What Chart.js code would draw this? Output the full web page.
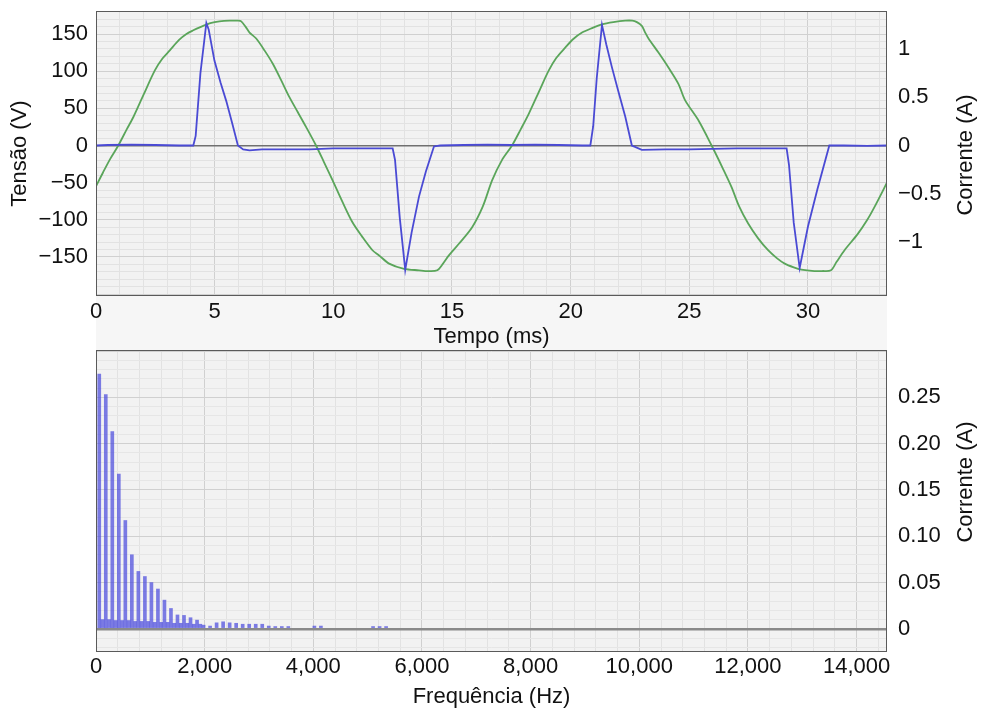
<!DOCTYPE html>
<html><head><meta charset="utf-8">
<script src="https://cdn.jsdelivr.net/npm/chart.js@4/dist/chart.umd.min.js"></script>
<style>
html,body{margin:0;padding:0;background:#fff;}
#wrap{position:relative;width:982px;height:715px;overflow:hidden;}
canvas{position:absolute;left:0;}
#c1{top:0;width:982px;height:350px;}
#c2{top:350px;width:982px;height:365px;}
</style></head><body>
<div id="wrap">
<canvas id="c1" width="982" height="350"></canvas>
<canvas id="c2" width="982" height="365"></canvas>
</div>
<script>
// ---- Top panel: voltage (V) and current (A) vs time (ms)
const timeV = [0.0,0.3,0.6,0.94,1.3,1.57,2.0,2.48,2.8,3.11,3.5,3.81,4.1,4.37,4.86,5.2,5.63,6.0,6.12,6.3,6.47,6.75,7.1,7.45,7.8,8.15,8.5,8.85,9.27,9.6,9.97,10.4,10.8,11.2,11.65,11.93,12.35,12.98,13.61,14.0,14.38,14.6,14.87,15.3,15.85,16.3,16.69,17.1,17.53,
  17.9,18.24,18.7,19.08,19.4,19.78,20.1,20.48,20.9,21.32,21.8,22.3,22.6,22.79,23.0,23.14,23.28,23.7,24.12,24.54,24.82,25.4,25.94,26.4,26.78,27.1,27.48,27.9,28.32,28.7,29.02,29.4,29.72,30.27,30.6,30.97,31.2,31.54,32.1,32.5,32.8,33.33];
const voltage = [-55,-36,-18,0,22,38,68,101,117,128,142,150,155,159,165,167,168,168,167,160,152,144,128,110,88,65,45,25,0,-22,-47,-77,-103,-122,-141,-148,-159,-166,-168,-169,-168,-160,-148,-132,-110,-82,-47,-20,0,
  22,43,75,101,118,132,143,152,158,163,166,168,168,166,161,152,144,125,105,83,61,33,0,-30,-56,-82,-105,-125,-141,-152,-159,-164,-167,-169,-169,-168,-157,-141,-119,-100,-83,-50];
const timeI = [0,0.5,1.5,2.5,3.5,4.1,4.2,4.4,4.65,4.75,4.99,5.25,5.49,5.75,5.98,6.2,6.47,7,8,9,10,11,12,12.5,12.6,12.8,13.03,13.3,13.61,13.9,14.24,14.5,15.5,16.5,17.5,18.5,19.5,20.5,20.83,20.95,21.1,21.32,21.5,21.74,22.0,22.3,22.58,23.0,24,25,26,27,28,29.1,29.2,29.4,29.65,30.0,30.4,30.9,31.5,32.5,33.33];
const current = [0,0.005,0.01,0.005,0,0,0.1,0.75,1.27,1.2,0.88,0.65,0.46,0.22,0,-0.04,-0.05,-0.04,-0.04,-0.04,-0.03,-0.03,-0.03,-0.03,-0.15,-0.75,-1.29,-0.9,-0.53,-0.27,-0.01,0,0.005,0.01,0.005,0.01,0.005,0,0,0.2,0.7,1.25,1.05,0.81,0.57,0.3,0,-0.045,-0.04,-0.04,-0.035,-0.03,-0.03,-0.03,-0.2,-0.8,-1.27,-0.84,-0.45,0,0,-0.005,0];

// ---- Bottom panel: current spectrum
const freqHz = [60,120,180,240,300,360,420,480,540,600,660,720,780,840,900,960,1020,1080,1140,1200,1260,1320,1380,1440,1500,1560,1620,1680,1740,1800,1860,1920,1980,2100,2220,2340,2460,2580,2700,2820,2940,3060,3180,3300,3420,3540,4020,4140,5100,5220,5340];
const ampA = [0.275,0.010,0.253,0.010,0.213,0.009,0.167,0.009,0.117,0.009,0.080,0.008,0.062,0.008,0.0565,0.008,0.050,0.007,0.043,0.007,0.031,0.007,0.022,0.006,0.015,0.006,0.0145,0.006,0.012,0.005,0.0094,0.005,0.004,0.003,0.0065,0.0076,0.0065,0.006,0.005,0.005,0.005,0.005,0.003,0.0025,0.0025,0.0025,0.003,0.003,0.0025,0.0025,0.0025];

const timeTicksMajor = 5, timeMinor = 1;
const voltMajor = 50, voltMinor = 10;
const freqMajor = 2000, freqMinor = 400, freqMax = 14560;

Chart.defaults.font.family = '"Liberation Sans", Arial, sans-serif';
Chart.defaults.font.size = 22;
Chart.defaults.color = '#111';

const MINUS = '\u2212';
function fmtNum(v){ const a = Math.abs(v); return (v < -1e-9 ? MINUS : '') + (Number.isInteger(a) ? String(a) : String(+a.toFixed(3))); }
function isMult(v, m){ const r = Math.abs(v / m - Math.round(v / m)); return r < 1e-6; }
function thousands(v){ return String(Math.round(v)).replace(/\B(?=(\d{3})+(?!\d))/g, ','); }

const bgPlugin = {
  id: 'bgframe',
  beforeDraw(chart, args, opts) {
    const {ctx, chartArea: a} = chart;
    ctx.save();
    if (opts.band) { ctx.fillStyle = '#f6f6f6'; ctx.fillRect(a.left, a.bottom, a.right - a.left, chart.height - a.bottom); }
    ctx.fillStyle = '#f2f2f2';
    ctx.fillRect(a.left, a.top, a.right - a.left, a.bottom - a.top);
    ctx.restore();
  },
  afterDraw(chart, args, opts) {
    const {ctx, chartArea: a} = chart;
    ctx.save();
    ctx.strokeStyle = '#5a5a5a'; ctx.lineWidth = 1;
    ctx.strokeRect(Math.round(a.left) + 0.5, Math.round(a.top) + 0.5, Math.round(a.right - a.left) - 1, Math.round(a.bottom - a.top) - 1);
    if (opts.rightTitle) {
      // right-hand axis title, reading bottom-to-top like the reference
      ctx.translate(966, opts.rightTitleY);
      ctx.rotate(-Math.PI / 2);
      ctx.font = '22px "Liberation Sans", Arial, sans-serif';
      ctx.fillStyle = '#111';
      ctx.textAlign = 'center';
      ctx.textBaseline = 'middle';
      ctx.fillText(opts.rightTitle, 0, 0);
    }
    ctx.restore();
  }
};

const gridColor = (major) => (ctx) => {
  const v = ctx.tick ? ctx.tick.value : 0;
  if (Math.abs(v) < 1e-9) return '#707070';
  return isMult(v, major) ? '#d0d0d0' : '#e2e2e2';
};
const noPadV = (w) => (s) => { s.width = w; s.paddingTop = 0; s.paddingBottom = 0; };
const noPadH = (h) => (s) => { s.height = h; s.paddingLeft = 0; s.paddingRight = 0; };

// Top chart
new Chart(document.getElementById('c1'), {
  type: 'line',
  data: {
    datasets: [
      { label: 'Corrente', yAxisID: 'y1', data: timeI.map((t, i) => ({x: t, y: current[i]})),
        borderColor: '#4a4ad4', borderWidth: 1.8, pointRadius: 0, tension: 0 },
      { label: 'Tensão', yAxisID: 'y', data: timeV.map((t, i) => ({x: t, y: voltage[i]})),
        borderColor: '#5aa55a', borderWidth: 1.8, pointRadius: 0, tension: 0.3 }
    ]
  },
  options: {
    responsive: false, animation: false, devicePixelRatio: 1,
    layout: { padding: { top: 11, left: 0, right: 0, bottom: 0 } },
    plugins: { legend: { display: false }, tooltip: { enabled: false },
      bgframe: { band: true, rightTitle: 'Corrente (A)', rightTitleY: 155 } },
    scales: {
      x: {
        type: 'linear', min: 0, max: 33.33,
        ticks: { autoSkip: false, maxRotation: 0, padding: 3, includeBounds: false,
          callback: (v) => isMult(v, timeTicksMajor) ? fmtNum(v) : '' },
        afterBuildTicks: (s) => { const t = []; for (let v = 0; v <= 33.33; v += timeMinor) t.push({value: v}); s.ticks = t; },
        grid: { drawTicks: false, color: gridColor(timeTicksMajor), lineWidth: 1 },
        border: { display: false },
        title: { display: true, text: 'Tempo (ms)', padding: { top: 0, bottom: 0 } },
        afterFit: noPadH(54)
      },
      y: {
        type: 'linear', position: 'left', min: -202.6, max: 181,
        ticks: { autoSkip: false, padding: 8, includeBounds: false,
          callback: (v) => (isMult(v, voltMajor) && Math.abs(v) <= 150) ? fmtNum(v) : '' },
        afterBuildTicks: (s) => { const t = []; for (let v = -200; v <= 180; v += voltMinor) t.push({value: v}); s.ticks = t; },
        grid: { drawTicks: false, color: gridColor(voltMajor), lineWidth: (c) => (Math.abs(c.tick.value) < 1e-9 ? 1.5 : 1) },
        border: { display: false },
        title: { display: true, text: 'Tensão (V)', padding: { top: 7, bottom: 0 } },
        afterFit: noPadV(96)
      },
      y1: {
        type: 'linear', position: 'right', min: -1.56, max: 1.394,
        ticks: { stepSize: 0.5, autoSkip: false, padding: 11, includeBounds: false,
          callback: (v) => Math.abs(v) <= 1.001 ? fmtNum(v) : '' },
        grid: { drawOnChartArea: false, drawTicks: false },
        border: { display: false },
        title: { display: false },
        afterFit: noPadV(95)
      }
    }
  },
  plugins: [bgPlugin]
});

// Bottom chart
new Chart(document.getElementById('c2'), {
  type: 'bar',
  data: {
    datasets: [
      { label: 'Corrente', yAxisID: 'y', data: freqHz.map((f, i) => ({x: f, y: ampA[i]})),
        backgroundColor: 'rgba(75,75,220,0.72)', borderWidth: 0, barThickness: 3 }
    ]
  },
  options: {
    responsive: false, animation: false, devicePixelRatio: 1,
    layout: { padding: { top: 0, left: 96, right: 0, bottom: 0 } },
    plugins: { legend: { display: false }, tooltip: { enabled: false },
      bgframe: { band: false, rightTitle: 'Corrente (A)', rightTitleY: 132 } },
    scales: {
      x: {
        type: 'linear', min: 0, max: freqMax, offset: false,
        ticks: { autoSkip: false, maxRotation: 0, padding: 2, includeBounds: false,
          callback: (v) => (Math.round(v) % freqMajor === 0) ? thousands(v) : '' },
        afterBuildTicks: (s) => { const t = []; for (let v = 0; v <= freqMax; v += freqMinor) t.push({value: v}); s.ticks = t; },
        grid: { drawTicks: false, offset: false, color: gridColor(freqMajor), lineWidth: 1 },
        border: { display: false },
        title: { display: true, text: 'Frequência (Hz)', padding: { top: 0, bottom: 5 } },
        afterFit: noPadH(63)
      },
      y: {
        type: 'linear', position: 'right', min: -0.025, max: 0.3011,
        ticks: { autoSkip: false, padding: 11, includeBounds: false,
          callback: (v) => (isMult(v, 0.05) && v > -1e-9 && v < 0.26) ? (Math.abs(v) < 1e-9 ? '0' : v.toFixed(2)) : '' },
        afterBuildTicks: (s) => { const t = []; for (let k = -2; k <= 30; k++) t.push({value: k / 100}); s.ticks = t; },
        grid: { drawTicks: false, color: (c) => { const v = c.tick.value; if (Math.abs(v) < 1e-9) return '#8a8a8a'; return isMult(v, 0.05) ? '#d0d0d0' : '#e6e6e6'; },
          lineWidth: (c) => (Math.abs(c.tick.value) < 1e-9 ? 2.5 : 1) },
        border: { display: false },
        title: { display: false },
        afterFit: noPadV(95)
      }
    }
  },
  plugins: [bgPlugin]
});
</script>
</body></html>
